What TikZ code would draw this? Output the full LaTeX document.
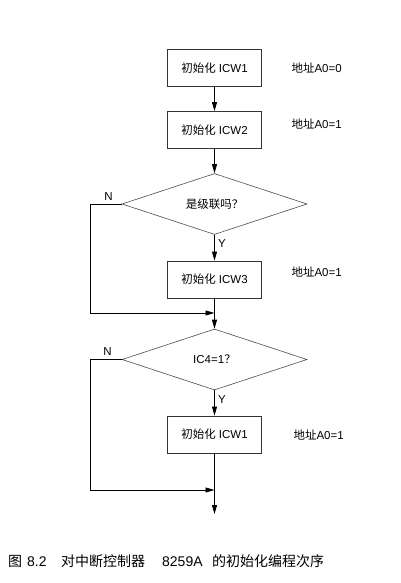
\documentclass[tikz,border=0pt]{standalone}
\usepackage{fontspec}
\setmainfont{Liberation Sans}
\newfontfamily\cjk{Noto Sans CJK SC}
\usetikzlibrary{shapes.geometric,arrows.meta}

\begin{document}
\begin{tikzpicture}[x=1pt, y=-1pt,
    every node/.style={font=\fontsize{11.5}{13}\selectfont},
    box/.style={draw=black!80, line width=0.8pt, rectangle, minimum width=94pt, minimum height=37pt, inner sep=0pt},
    decision/.style={draw=black!70, line width=0.6pt, diamond, aspect=3, minimum width=185pt, minimum height=61pt, inner sep=0pt},
    >={Triangle[length=9pt,width=5pt]}]
  \useasboundingbox (0,0) rectangle (400,583);

  % Boxes
  \node[box] (icw1) at (214.5,68) {{\cjk 初始化} ICW1};
  \node[box] (icw2) at (214.5,130) {{\cjk 初始化} ICW2};
  \node[decision] (cascade) at (214.5,204) {{\cjk 是级联吗？}};
  \node[box] (icw3) at (214.5,279.5) {{\cjk 初始化} ICW3};
  \coordinate (join1) at (214.5,313);
  \node[decision] (ic4) at (214.5,359.5) {IC4=1{\cjk ？}};
  \node[box] (icw4) at (214.5,434.5) {{\cjk 初始化} ICW1};
  \coordinate (join2) at (214.5,490);
  \coordinate (exit) at (214.5,514);

  % Addresses
  \node[anchor=west] (addr1) at (288,68) {{\cjk 地址}A0=0};
  \node[anchor=west] (addr2) at (288,124) {{\cjk 地址}A0=1};
  \node[anchor=west] (addr3) at (288,272) {{\cjk 地址}A0=1};
  \node[anchor=west] (addr4) at (290,435) {{\cjk 地址}A0=1};

  % Wires
  \draw[->, line width=0.8pt] (icw1) -- (icw2);
  \draw[->, line width=0.8pt] (icw2) -- (cascade.north);
  \draw[->, line width=0.8pt] (cascade.south) -- node[right, pos=0.35] {Y} (icw3);
  \draw[line width=0.8pt] (icw3) -- (join1);
  \draw[->, line width=0.8pt] (cascade.west) -- ++(-31,0) node[above right, xshift=10pt] {N} |- (join1);
  \draw[->, line width=0.8pt] (join1) -- (ic4.north);
  \draw[->, line width=0.8pt] (ic4.south) -- node[right, pos=0.35] {Y} (icw4);
  \draw[line width=0.8pt] (icw4) -- (join2);
  \draw[->, line width=0.8pt] (ic4.west) -- ++(-31,0) node[above right, xshift=9pt] {N} |- (join2);
  \draw[->, line width=0.8pt] (join2) -- (exit);

  % Caption
  \node[anchor=west, inner sep=0pt, font=\fontsize{14}{16}\selectfont] (caption) at (8,561)
    {{\cjk 图}\hspace{5pt}8.2\hspace{14.5pt}{\cjk 对中断控制器}\hspace{17pt}8259A\hspace{9.5pt}{\cjk 的初始化编程次序}};
\end{tikzpicture}
\end{document}
